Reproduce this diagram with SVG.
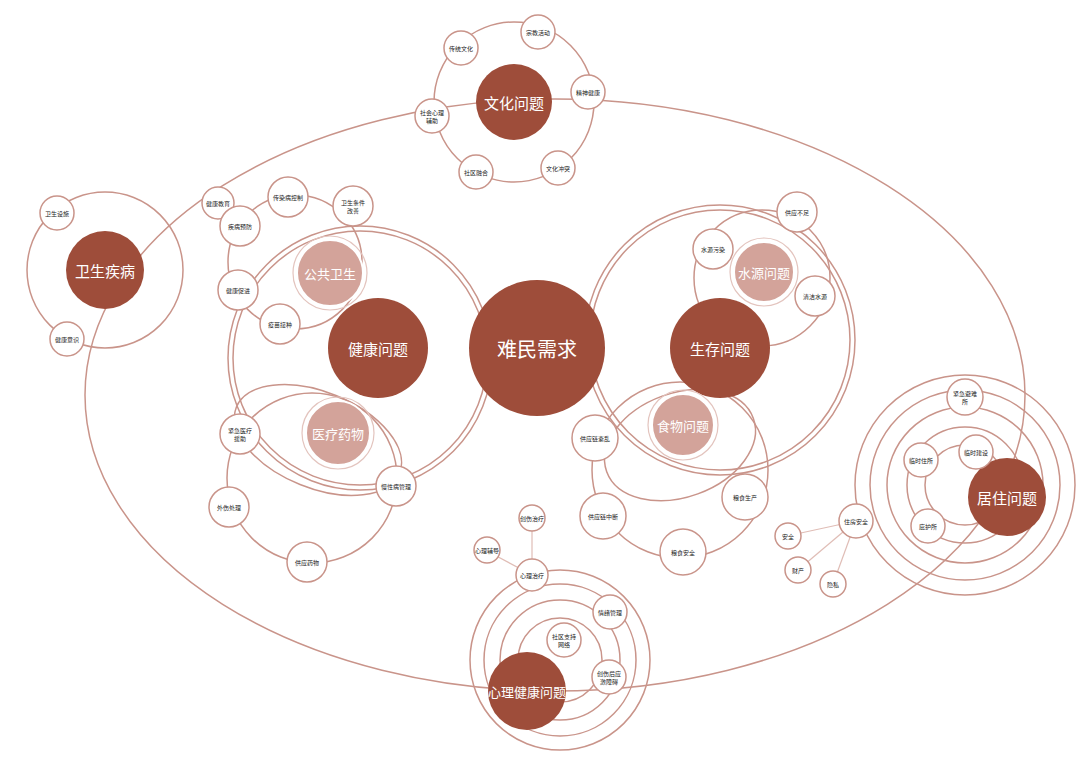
<svg xmlns="http://www.w3.org/2000/svg" width="1080" height="762" viewBox="0 0 1080 762">
<style>
.l{fill:none;stroke:#c9948a;stroke-width:1.5}
.t{fill:none;stroke:#e0bdb6;stroke-width:1.2}
.s{fill:#fff;stroke:#c9948a;stroke-width:1.5}
.b{fill:#9e4d3a}
.p{fill:#d3a39a;stroke:#fff;stroke-width:2}
.pr{fill:none;stroke:#e3c4be;stroke-width:1.2}
text{font-family:"Noto Sans CJK SC",sans-serif;text-anchor:middle;dominant-baseline:central}
.st{font-size:6px;fill:#222}
.bt{font-size:15px;fill:#fff}
.ct{font-size:20px;fill:#fff}
.pt{font-size:13px;fill:#fff}
</style>
<rect width="1080" height="762" fill="#fff"/>
<g id="connectors">
<ellipse class="l" cx="555" cy="395" rx="470" ry="296"/>
<circle class="l" cx="514" cy="102" r="80"/>
<circle class="l" cx="105" cy="270" r="78"/>
<circle class="l" cx="360" cy="358" r="132"/>
<circle class="l" cx="360" cy="358" r="127"/>
<circle class="l" cx="720" cy="340" r="135"/>
<circle class="l" cx="720" cy="340" r="130"/>
<circle class="l" cx="295" cy="262" r="67"/>
<circle class="l" cx="312" cy="478" r="85"/>
<ellipse class="l" cx="318" cy="440" rx="88" ry="48" transform="rotate(22 318 440)"/>
<circle class="l" cx="762" cy="278" r="68"/>
<circle class="l" cx="680" cy="470" r="88"/>
<ellipse class="l" cx="680" cy="445" rx="78" ry="52" transform="rotate(-20 680 445)"/>
<circle class="l" cx="965" cy="485" r="40"/>
<circle class="l" cx="965" cy="485" r="58"/>
<circle class="l" cx="965" cy="485" r="78"/>
<circle class="l" cx="965" cy="485" r="95"/>
<circle class="l" cx="965" cy="485" r="110"/>
<circle class="l" cx="560" cy="660" r="42"/>
<circle class="l" cx="560" cy="660" r="60"/>
<circle class="l" cx="560" cy="660" r="76"/>
<circle class="l" cx="560" cy="660" r="90"/>
<line class="t" x1="856" y1="521" x2="787" y2="536"/>
<line class="t" x1="856" y1="521" x2="798" y2="570"/>
<line class="t" x1="856" y1="521" x2="833" y2="584"/>
<line class="t" x1="532" y1="575" x2="487" y2="551"/>
<line class="t" x1="532" y1="575" x2="532" y2="519"/>
</g>
<g id="center"><circle class="b" cx="537" cy="348" r="68"/><text class="ct" x="537" y="348">难民需求</text></g>
<g id="health"><circle class="b" cx="378" cy="348" r="50"/><text class="bt" x="378" y="348">健康问题</text></g>
<g id="survival"><circle class="b" cx="720" cy="348" r="50"/><text class="bt" x="720" y="348">生存问题</text></g>
<g id="culture"><circle class="b" cx="514" cy="102" r="38"/><text class="bt" x="514" y="102">文化问题</text></g>
<g id="sanitation"><circle class="b" cx="105" cy="270" r="39"/><text class="bt" x="105" y="270">卫生疾病</text></g>
<g id="housing"><circle class="b" cx="1007" cy="497" r="39"/><text class="bt" x="1007" y="497">居住问题</text></g>
<g id="mental"><circle class="b" cx="527" cy="691" r="39"/><text class="bt" x="527" y="691" style="font-size:13px">心理健康问题</text></g>
<g id="public"><circle class="pr" cx="330" cy="273" r="37"/><circle class="p" cx="330" cy="273" r="33"/><text class="pt" x="330" y="273">公共卫生</text></g>
<g id="medicine"><circle class="pr" cx="338" cy="433" r="36"/><circle class="p" cx="338" cy="433" r="32"/><text class="pt" x="338" y="433">医疗药物</text></g>
<g id="water"><circle class="pr" cx="764" cy="272" r="34"/><circle class="p" cx="764" cy="272" r="30"/><text class="pt" x="764" y="272">水源问题</text></g>
<g id="food"><circle class="pr" cx="683" cy="425" r="35"/><circle class="p" cx="683" cy="425" r="31"/><text class="pt" x="683" y="425">食物问题</text></g>
<g id="n1"><circle class="s" cx="538" cy="32" r="17"/><text class="st" x="538" y="32">宗教活动</text></g>
<g id="n2"><circle class="s" cx="461" cy="48" r="17"/><text class="st" x="461" y="48">传统文化</text></g>
<g id="n3"><circle class="s" cx="588" cy="92" r="17"/><text class="st" x="588" y="92">精神健康</text></g>
<g id="n4"><circle class="s" cx="432" cy="116" r="17"/><text class="st" x="432" y="112">社会心理</text><text class="st" x="432" y="120">辅助</text></g>
<g id="n5"><circle class="s" cx="476" cy="172" r="17"/><text class="st" x="476" y="172">社区融合</text></g>
<g id="n6"><circle class="s" cx="558" cy="168" r="17"/><text class="st" x="558" y="168">文化冲突</text></g>
<g id="n7"><circle class="s" cx="218" cy="203" r="16"/><text class="st" x="218" y="203">健康教育</text></g>
<g id="n8"><circle class="s" cx="240" cy="226" r="20"/><text class="st" x="240" y="226">疾病预防</text></g>
<g id="n9"><circle class="s" cx="288" cy="197" r="20"/><text class="st" x="288" y="197">传染病控制</text></g>
<g id="n10"><circle class="s" cx="353" cy="206" r="20"/><text class="st" x="353" y="202">卫生条件</text><text class="st" x="353" y="210">改善</text></g>
<g id="n11"><circle class="s" cx="238" cy="290" r="20"/><text class="st" x="238" y="290">健康促进</text></g>
<g id="n12"><circle class="s" cx="280" cy="324" r="20"/><text class="st" x="280" y="324">疫苗接种</text></g>
<g id="n13"><circle class="s" cx="240" cy="434" r="20"/><text class="st" x="240" y="430">紧急医疗</text><text class="st" x="240" y="438">援助</text></g>
<g id="n14"><circle class="s" cx="229" cy="507" r="20"/><text class="st" x="229" y="507">外伤处理</text></g>
<g id="n15"><circle class="s" cx="307" cy="562" r="20"/><text class="st" x="307" y="562">供应药物</text></g>
<g id="n16"><circle class="s" cx="396" cy="486" r="20"/><text class="st" x="396" y="486">慢性病管理</text></g>
<g id="n17"><circle class="s" cx="797" cy="212" r="20"/><text class="st" x="797" y="212">供应不足</text></g>
<g id="n18"><circle class="s" cx="713" cy="249" r="20"/><text class="st" x="713" y="249">水源污染</text></g>
<g id="n19"><circle class="s" cx="815" cy="296" r="20"/><text class="st" x="815" y="296">清洁水源</text></g>
<g id="n20"><circle class="s" cx="595" cy="438" r="23"/><text class="st" x="595" y="438">供应链紊乱</text></g>
<g id="n21"><circle class="s" cx="745" cy="497" r="23"/><text class="st" x="745" y="497">粮食生产</text></g>
<g id="n22"><circle class="s" cx="603" cy="516" r="23"/><text class="st" x="603" y="516">供应链中断</text></g>
<g id="n23"><circle class="s" cx="683" cy="552" r="23"/><text class="st" x="683" y="552">粮食安全</text></g>
<g id="n24"><circle class="s" cx="965" cy="397" r="18"/><text class="st" x="965" y="393">紧急避难</text><text class="st" x="965" y="401">所</text></g>
<g id="n25"><circle class="s" cx="921" cy="460" r="17"/><text class="st" x="921" y="460">临时住所</text></g>
<g id="n26"><circle class="s" cx="976" cy="452" r="17"/><text class="st" x="976" y="452">临时建设</text></g>
<g id="n27"><circle class="s" cx="928" cy="526" r="17"/><text class="st" x="928" y="526">庇护所</text></g>
<g id="n28"><circle class="s" cx="856" cy="521" r="17"/><text class="st" x="856" y="521">住房安全</text></g>
<g id="n29"><circle class="s" cx="788" cy="536" r="13"/><text class="st" x="788" y="536">安全</text></g>
<g id="n30"><circle class="s" cx="798" cy="570" r="13"/><text class="st" x="798" y="570">财产</text></g>
<g id="n31"><circle class="s" cx="833" cy="584" r="13"/><text class="st" x="833" y="584">隐私</text></g>
<g id="n32"><circle class="s" cx="532" cy="575" r="16"/><text class="st" x="532" y="575">心理治疗</text></g>
<g id="n33"><circle class="s" cx="487" cy="550" r="13"/><text class="st" x="487" y="550">心理辅导</text></g>
<g id="n34"><circle class="s" cx="532" cy="518" r="13"/><text class="st" x="532" y="518">创伤治疗</text></g>
<g id="n35"><circle class="s" cx="610" cy="612" r="17"/><text class="st" x="610" y="612">情绪管理</text></g>
<g id="n36"><circle class="s" cx="564" cy="640" r="17"/><text class="st" x="564" y="636">社区支持</text><text class="st" x="564" y="644">网络</text></g>
<g id="n37"><circle class="s" cx="609" cy="677" r="17"/><text class="st" x="609" y="673">创伤后应</text><text class="st" x="609" y="681">激障碍</text></g>
<g id="n38"><circle class="s" cx="57" cy="213" r="17"/><text class="st" x="57" y="213">卫生设施</text></g>
<g id="n39"><circle class="s" cx="67" cy="339" r="17"/><text class="st" x="67" y="339">健康意识</text></g>
</svg>
